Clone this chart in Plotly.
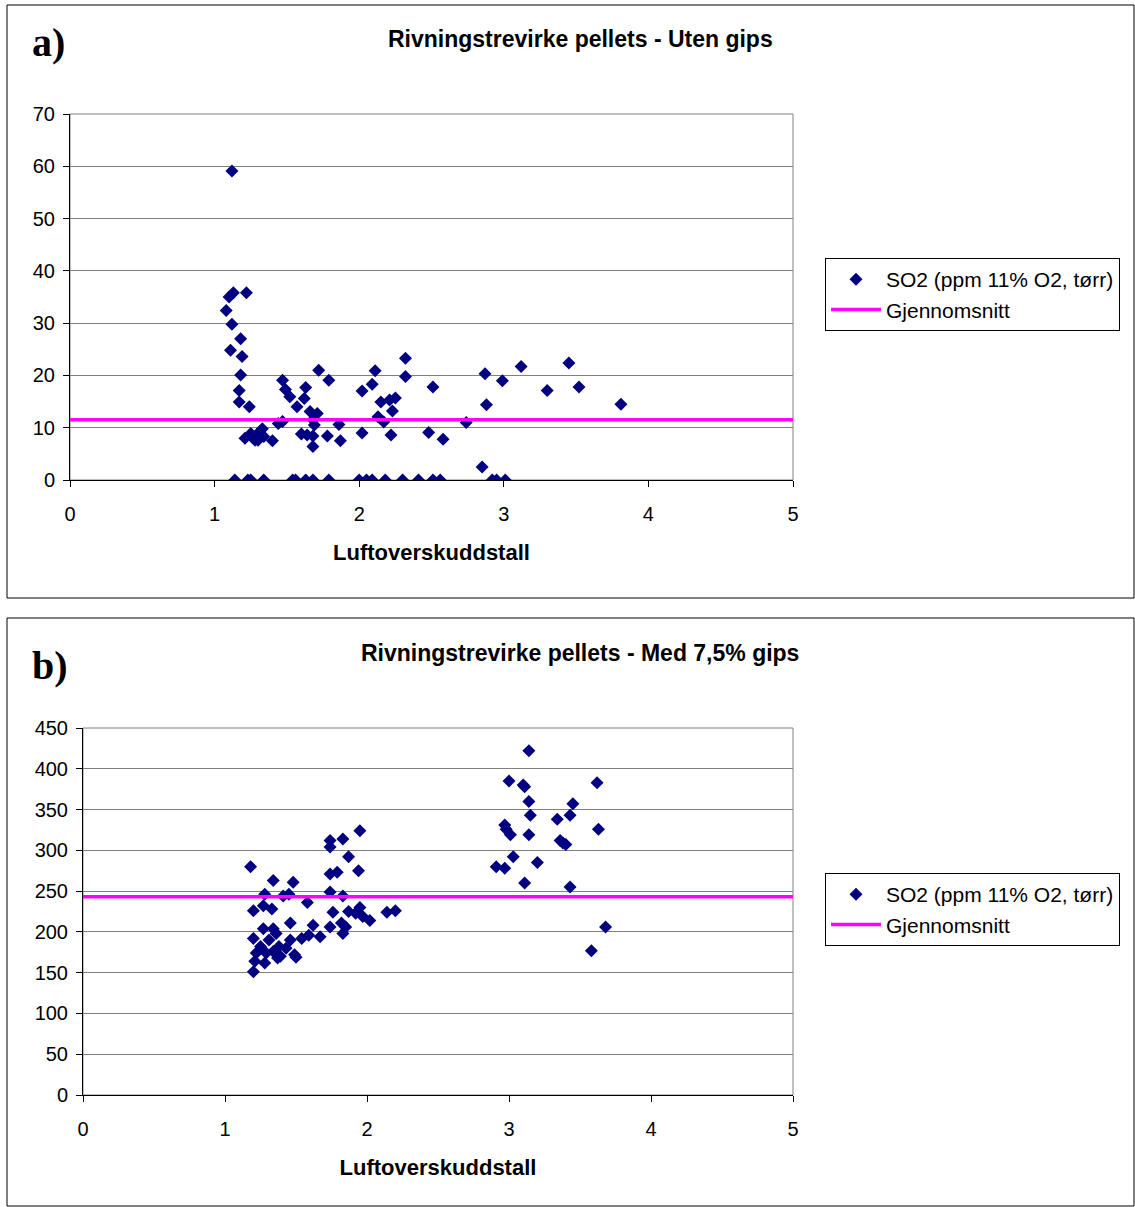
import plotly.graph_objects as go

# ---------------- Data ----------------
# Panel a: Rivningstrevirke pellets - Uten gips
a_x = [1.12, 1.10, 1.13, 1.22, 1.08, 1.12, 1.18, 1.11, 1.19, 1.18, 1.17, 1.17, 1.24,
       1.21, 1.25, 1.28, 1.31, 1.34, 1.40, 1.30, 1.33, 1.26, 1.44, 1.47,
       1.47, 1.49, 1.52, 1.57, 1.63, 1.62, 1.72, 1.79, 1.66, 1.71, 1.68, 1.69,
       1.60, 1.64, 1.68, 1.78, 1.68, 1.86, 1.87, 2.02, 2.02,
       2.32, 2.11, 2.32, 2.09, 2.51, 2.87, 2.15, 2.21, 2.25, 2.23, 2.13, 2.17,
       2.88, 2.74, 2.22, 2.48, 2.58, 2.85, 2.99, 3.12, 3.45, 3.30, 3.52, 3.81,
       1.14, 1.23, 1.25, 1.34, 1.54, 1.56, 1.63, 1.68, 1.79, 2.00, 2.05, 2.09,
       2.18, 2.30, 2.41, 2.51, 2.56, 2.92, 2.95, 3.01]
a_y = [59.1, 35.0, 35.8, 35.8, 32.4, 29.8, 27.0, 24.8, 23.6, 20.1, 17.1, 14.9, 14.0,
       8.0, 8.9, 7.6, 9.2, 8.3, 7.5, 7.6, 9.8, 8.2, 10.8, 11.2,
       19.1, 17.3, 15.9, 14.0, 17.7, 15.6, 21.0, 19.1, 13.1, 12.7, 11.5, 10.5,
       8.8, 8.6, 8.4, 8.4, 6.4, 10.6, 7.5, 17.0, 9.0,
       23.3, 20.9, 19.8, 18.3, 17.8, 20.3, 14.9, 15.3, 15.7, 13.2, 12.1, 11.1,
       14.4, 11.0, 8.6, 9.1, 7.8, 2.5, 19.0, 21.7, 22.4, 17.1, 17.8, 14.5,
       0, 0, 0, 0, 0, 0, 0, 0, 0, 0, 0, 0,
       0, 0, 0, 0, 0, 0, 0, 0]
mean_a = 11.5

# Panel b: Rivningstrevirke pellets - Med 7,5% gips
b_x = [1.18, 1.34, 1.48, 1.28, 1.41, 1.45, 1.58, 1.20, 1.27, 1.33, 1.46, 1.62,
       1.20, 1.21, 1.22, 1.20, 1.27, 1.34, 1.25, 1.31, 1.29, 1.36, 1.38, 1.34,
       1.39, 1.28, 1.43, 1.46, 1.49, 1.54, 1.59, 1.67, 1.74, 1.50, 1.37,
       1.95, 1.83, 1.74, 1.74, 1.87, 1.94, 1.74, 1.79, 1.74, 1.83, 1.76, 1.95,
       1.87, 1.92, 1.97, 2.02, 2.14, 2.20, 1.82, 1.85, 1.83,
       3.14, 3.00, 3.10, 3.11, 3.62, 3.14, 3.45, 3.15, 3.43, 3.34, 2.97, 3.01,
       2.98, 3.14, 3.63, 3.36, 3.40, 3.38, 3.03, 2.91, 2.97, 3.20, 3.11, 3.43,
       3.68, 3.58]
b_y = [280, 263, 261, 246, 244, 246, 236, 226, 232, 228, 211, 208,
       151, 164, 174, 192, 204, 204, 182, 190, 174, 198, 182, 176,
       170, 162, 180, 190, 172, 192, 196, 194, 206, 169, 168,
       324, 314, 312, 304, 292, 275, 271, 273, 249, 244, 224, 230,
       225, 223, 219, 214, 224, 226, 211, 206, 198,
       422, 385, 380, 378, 383, 360, 357, 343, 343, 338, 331, 319,
       326, 319, 326, 312, 307, 309, 292, 280, 278, 285, 260, 255,
       206, 177]
mean_b = 243

x_range = [0, 5]
series_name = "SO2 (ppm 11% O2, tørr)"
mean_name = "Gjennomsnitt"
titles = ["Rivningstrevirke pellets - Uten gips", "Rivningstrevirke pellets - Med 7,5% gips"]
panel_labels = ["a)", "b)"]
x_title = "Luftoverskuddstall"

# ---------------- Figure ----------------
W, H = 1135, 1207
FONT = "Arial, Liberation Sans, sans-serif"
NAVY = "#000080"
MAG = "#FF00FF"


def px(x):
    return x / W


def py(y):
    return 1 - y / H


fig = go.Figure()

fig.add_trace(go.Scatter(x=a_x, y=a_y, mode="markers", name=series_name,
                         marker=dict(symbol="diamond", size=10, color=NAVY),
                         xaxis="x", yaxis="y", legend="legend"))
fig.add_trace(go.Scatter(x=x_range, y=[mean_a, mean_a], mode="lines", name=mean_name,
                         line=dict(color=MAG, width=3.5),
                         xaxis="x", yaxis="y", legend="legend"))
fig.add_trace(go.Scatter(x=b_x, y=b_y, mode="markers", name=series_name,
                         marker=dict(symbol="diamond", size=10, color=NAVY),
                         xaxis="x2", yaxis="y2", legend="legend2"))
fig.add_trace(go.Scatter(x=x_range, y=[mean_b, mean_b], mode="lines", name=mean_name,
                         line=dict(color=MAG, width=3.5),
                         xaxis="x2", yaxis="y2", legend="legend2"))

axis_common = dict(showgrid=True, gridcolor="#808080", gridwidth=1,
                   showline=True, linecolor="#000000", linewidth=1,
                   ticks="outside", ticklen=6, tickcolor="#000000", tickwidth=1,
                   tickfont=dict(family=FONT, size=20, color="#000"),
                   zeroline=False, fixedrange=True, automargin=False)

xt = dict(text=x_title, font=dict(family=FONT, size=22, weight="bold", color="#000"), standoff=20)

legend_common = dict(xanchor="left", yanchor="top",
                     bordercolor="#000", borderwidth=1, bgcolor="white",
                     font=dict(family=FONT, size=21, color="#000"),
                     itemwidth=50, tracegroupgap=0)

fig.update_layout(
    template="none",
    width=W, height=H, autosize=False,
    margin=dict(l=0, r=0, t=0, b=0, pad=0),
    paper_bgcolor="white", plot_bgcolor="white",
    font=dict(family=FONT, color="#000"),
    xaxis=dict(axis_common, domain=[px(70), px(793)], range=x_range, dtick=1,
               anchor="y", showgrid=False, ticklabelstandoff=10, title=xt),
    yaxis=dict(axis_common, domain=[py(480), py(114)], range=[0, 70], dtick=10,
               anchor="x", ticklabelstandoff=4),
    xaxis2=dict(axis_common, domain=[px(83), px(793)], range=x_range, dtick=1,
                anchor="y2", showgrid=False, ticklabelstandoff=10, title=xt),
    yaxis2=dict(axis_common, domain=[py(1095), py(728)], range=[0, 450], dtick=50,
                anchor="x2", ticklabelstandoff=4),
    legend=dict(legend_common, x=px(825), y=py(258)),
    legend2=dict(legend_common, x=px(825), y=py(873)),
    showlegend=True,
)

# Panel frames
fig.add_shape(type="rect", xref="paper", yref="paper",
              x0=px(7), x1=px(1134), y0=py(598), y1=py(5),
              line=dict(color="#000", width=1), layer="below")
fig.add_shape(type="rect", xref="paper", yref="paper",
              x0=px(7), x1=px(1134), y0=py(1206), y1=py(618),
              line=dict(color="#000", width=1), layer="below")
# Plot area borders (grey, top/right)
for xr, yr in (("x", "y"), ("x2", "y2")):
    fig.add_shape(type="rect", xref=f"{xr} domain", yref=f"{yr} domain",
                  x0=0, x1=1, y0=0, y1=1, line=dict(color="#808080", width=1),
                  layer="below")

# Titles and panel labels
for title, ycen in zip(titles, (39, 653)):
    fig.add_annotation(text=f"<b>{title}</b>", xref="paper", yref="paper",
                       x=px(580), y=py(ycen), xanchor="center", yanchor="middle",
                       showarrow=False, font=dict(family=FONT, size=23, color="#000"))
for lab, ycen in zip(panel_labels, (42, 665)):
    fig.add_annotation(text=f"<b>{lab}</b>", xref="paper", yref="paper",
                       x=px(30), y=py(ycen), xanchor="left", yanchor="middle",
                       showarrow=False,
                       font=dict(family="Liberation Serif, Times New Roman, serif", size=40, color="#000"))

fig.write_html("out.html",
               config={"displayModeBar": False},
               post_script="document.body.style.margin='0';document.body.style.padding='0';")
